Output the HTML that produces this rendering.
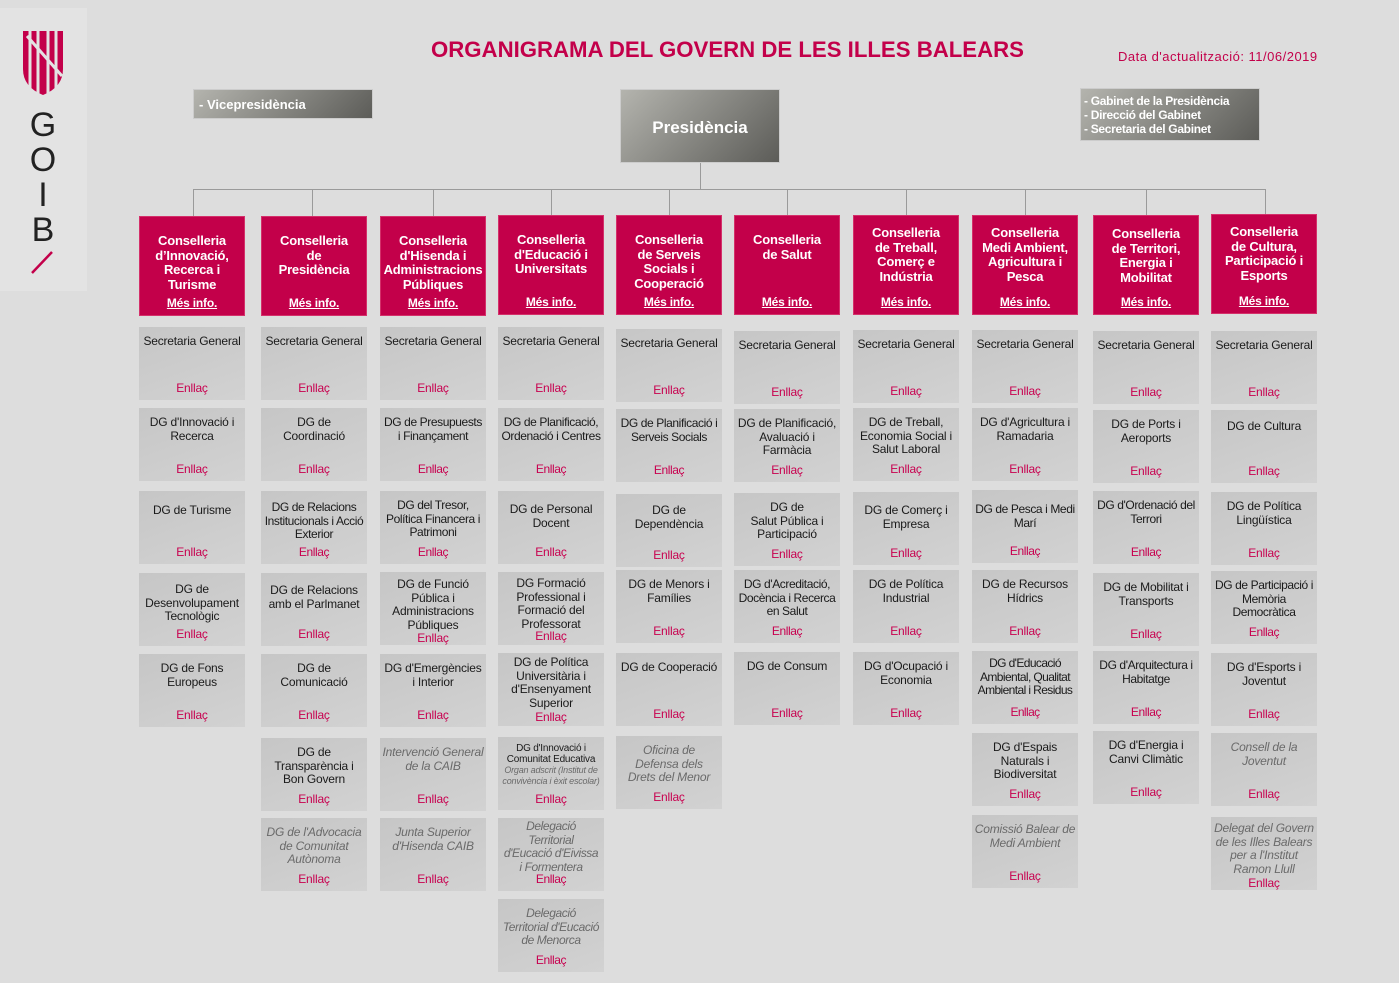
<!DOCTYPE html>
<html><head><meta charset="utf-8"><style>
*{margin:0;padding:0;box-sizing:border-box}
body{width:1399px;height:983px;background:#dddddd;position:relative;overflow:hidden;font-family:"Liberation Sans",Arial,sans-serif}
.logo{position:absolute;left:0;top:8px;width:87px;height:283px;background:#e3e3e3}
.title{position:absolute;left:431px;top:37px;font-size:22.2px;font-weight:bold;color:#c3004a}
.date{position:absolute;left:1118px;top:49px;font-size:13px;color:#c3004a;letter-spacing:0.5px}
.gbox{position:absolute;background:linear-gradient(135deg,#b4b4ae,#5c5c58);color:#fff;font-weight:bold;border:1px solid #ccc}
.line{position:absolute;background:#9a9a9a}
.col{position:absolute;width:106px}
.h{position:absolute;left:0;width:106px;height:100px;background:#c3004a;color:#fff;font-weight:bold;font-size:13px;line-height:14.5px;text-align:center;padding-top:17px;border:1px solid #d4306a;white-space:nowrap;letter-spacing:-0.2px}
.h u{position:absolute;left:0;right:0;bottom:5px;font-size:12px}
.c{position:absolute;left:0;width:106px;height:73px;background:linear-gradient(160deg,#c6c6c6,#d2d2d2);color:#1a1a1a;font-size:12px;line-height:13.5px;text-align:center;padding:8px 2px 0;letter-spacing:-0.2px}
.c .e{position:absolute;left:0;right:0;bottom:5px;color:#c8004f;font-size:12px;font-style:normal}
.n{white-space:nowrap;padding:8px 0 0;letter-spacing:-0.4px}
.i{font-style:italic;color:#6a6a6a}
</style></head><body>
<div class="logo">
<svg width="87" height="283" viewBox="0 0 87 283">
<path d="M23 23 h40 v38 q0 18 -20 26 q-20 -8 -20 -26z" fill="#c3004a"/>
<g stroke="#e3e3e3" stroke-width="3"><line x1="30" y1="22" x2="30" y2="90"/><line x1="38" y1="22" x2="38" y2="90"/><line x1="48" y1="22" x2="48" y2="90"/><line x1="56" y1="22" x2="56" y2="90"/><line x1="27" y1="28" x2="62" y2="68"/></g>
<text x="43" y="128" font-family="Liberation Sans" font-size="34" text-anchor="middle" fill="#222">G</text>
<text x="43" y="163" font-family="Liberation Sans" font-size="34" text-anchor="middle" fill="#222">O</text>
<text x="43" y="198" font-family="Liberation Sans" font-size="34" text-anchor="middle" fill="#222">I</text>
<text x="43" y="233" font-family="Liberation Sans" font-size="34" text-anchor="middle" fill="#222">B</text>
<line x1="32" y1="265" x2="52" y2="244" stroke="#c3004a" stroke-width="2.5"/>
</svg></div>
<div class="title">ORGANIGRAMA DEL GOVERN DE LES ILLES BALEARS</div>
<div class="date">Data d'actualització: 11/06/2019</div>
<div class="gbox" style="left:193px;top:89px;width:180px;height:30px;font-size:13px;padding:7px 0 0 5px">- Vicepresidència</div>
<div class="gbox" style="left:620px;top:89px;width:160px;height:74px;font-size:17px;text-align:center;padding-top:28px">Presidència</div>
<div class="gbox" style="left:1080px;top:88px;width:180px;height:53px;font-size:12px;line-height:14px;padding:5px 0 0 3px;letter-spacing:-0.3px">- Gabinet de la Presidència<br>- Direcció del Gabinet<br>- Secretaria del Gabinet</div>
<div class="line" style="left:700px;top:163px;width:1px;height:26px"></div>
<div class="line" style="left:193px;top:189px;width:1073px;height:1px"></div>
<div class="line" style="left:193px;top:189px;width:1px;height:27px"></div>
<div class="line" style="left:312px;top:189px;width:1px;height:27px"></div>
<div class="line" style="left:433px;top:189px;width:1px;height:27px"></div>
<div class="line" style="left:551px;top:189px;width:1px;height:27px"></div>
<div class="line" style="left:669px;top:189px;width:1px;height:27px"></div>
<div class="line" style="left:787px;top:189px;width:1px;height:27px"></div>
<div class="line" style="left:906px;top:189px;width:1px;height:27px"></div>
<div class="line" style="left:1025px;top:189px;width:1px;height:27px"></div>
<div class="line" style="left:1146px;top:189px;width:1px;height:27px"></div>
<div class="line" style="left:1265px;top:189px;width:1px;height:27px"></div>

<div class="col" style="left:139px">
<div class="h" style="top:216px">Conselleria<br>d’Innovació,<br>Recerca i<br>Turisme<u>Més info.</u></div>
<div class="c" style="top:327px">Secretaria General<span class="e">Enllaç</span></div>
<div class="c" style="top:408px">DG d'Innovació i Recerca<span class="e">Enllaç</span></div>
<div class="c" style="top:491px;padding-top:13px">DG de Turisme<span class="e">Enllaç</span></div>
<div class="c" style="top:573px;padding-top:10px">DG de Desenvolupament Tecnològic<span class="e">Enllaç</span></div>
<div class="c" style="top:654px">DG de Fons Europeus<span class="e">Enllaç</span></div>
</div>

<div class="col" style="left:261px">
<div class="h" style="top:216px">Conselleria<br>de<br>Presidència<u>Més info.</u></div>
<div class="c" style="top:327px">Secretaria General<span class="e">Enllaç</span></div>
<div class="c" style="top:408px">DG de<br>Coordinació<span class="e">Enllaç</span></div>
<div class="c n" style="top:491px;padding-top:10px">DG de Relacions<br>Institucionals i Acció<br>Exterior<span class="e">Enllaç</span></div>
<div class="c" style="top:573px;padding-top:11px">DG de Relacions amb el Parlmanet<span class="e">Enllaç</span></div>
<div class="c" style="top:654px">DG de<br>Comunicació<span class="e">Enllaç</span></div>
<div class="c" style="top:738px">DG de<br>Transparència i<br>Bon Govern<span class="e">Enllaç</span></div>
<div class="c i" style="top:818px">DG de l'Advocacia de Comunitat Autònoma<span class="e">Enllaç</span></div>
</div>

<div class="col" style="left:380px">
<div class="h" style="top:216px">Conselleria<br>d'Hisenda i<br>Administracions<br>Públiques<u>Més info.</u></div>
<div class="c" style="top:327px">Secretaria General<span class="e">Enllaç</span></div>
<div class="c n" style="top:408px">DG de Presupuests<br>i Finançament<span class="e">Enllaç</span></div>
<div class="c n" style="top:491px">DG del Tresor,<br>Política Financera i<br>Patrimoni<span class="e">Enllaç</span></div>
<div class="c" style="top:572px;padding-top:6px">DG de Funció Pública i Administracions Públiques<span class="e" style="bottom:0">Enllaç</span></div>
<div class="c" style="top:654px">DG d'Emergències i Interior<span class="e">Enllaç</span></div>
<div class="c i" style="top:738px">Intervenció General de la CAIB<span class="e">Enllaç</span></div>
<div class="c i" style="top:818px">Junta Superior d'Hisenda CAIB<span class="e">Enllaç</span></div>
</div>

<div class="col" style="left:498px">
<div class="h" style="top:215px">Conselleria<br>d'Educació i<br>Universitats<u>Més info.</u></div>
<div class="c" style="top:327px">Secretaria General<span class="e">Enllaç</span></div>
<div class="c n" style="top:408px">DG de Planificació,<br>Ordenació i Centres<span class="e">Enllaç</span></div>
<div class="c" style="top:491px;padding-top:12px">DG de Personal Docent<span class="e">Enllaç</span></div>
<div class="c" style="top:572px;padding-top:5px">DG Formació Professional i Formació del Professorat<span class="e" style="bottom:2px">Enllaç</span></div>
<div class="c" style="top:653px;padding-top:3px">DG de Política Universitària i d'Ensenyament Superior<span class="e" style="bottom:2px">Enllaç</span></div>
<div class="c" style="top:737px;font-size:10px;line-height:11px;padding-top:6px">DG d'Innovació i Comunitat Educativa<br><span class="i" style="font-size:9px">Organ adscrit (Institut de convivència i èxit escolar)</span><span class="e">Enllaç</span></div>
<div class="c i n" style="top:818px;padding-top:2px">Delegació<br>Territorial<br>d'Eucació d'Eivissa<br>i Formentera<span class="e">Enllaç</span></div>
<div class="c i n" style="top:899px">Delegació<br>Territorial d'Eucació<br>de Menorca<span class="e">Enllaç</span></div>
</div>

<div class="col" style="left:616px">
<div class="h" style="top:215px">Conselleria<br>de Serveis<br>Socials i<br>Cooperació<u>Més info.</u></div>
<div class="c" style="top:329px">Secretaria General<span class="e">Enllaç</span></div>
<div class="c n" style="top:409px">DG de Planificació i<br>Serveis Socials<span class="e">Enllaç</span></div>
<div class="c" style="top:494px;padding-top:10px">DG de<br>Dependència<span class="e">Enllaç</span></div>
<div class="c" style="top:570px">DG de Menors i Famílies<span class="e">Enllaç</span></div>
<div class="c" style="top:653px;padding-top:8px">DG de Cooperació<span class="e">Enllaç</span></div>
<div class="c i" style="top:736px">Oficina de<br>Defensa dels<br>Drets del Menor<span class="e">Enllaç</span></div>
</div>

<div class="col" style="left:734px">
<div class="h" style="top:215px">Conselleria<br>de Salut<u>Més info.</u></div>
<div class="c" style="top:331px">Secretaria General<span class="e">Enllaç</span></div>
<div class="c" style="top:409px">DG de Planificació, Avaluació i Farmàcia<span class="e">Enllaç</span></div>
<div class="c" style="top:493px">DG de<br>Salut Pública i<br>Participació<span class="e">Enllaç</span></div>
<div class="c n" style="top:570px">DG d'Acreditació,<br>Docència i Recerca<br>en Salut<span class="e">Enllaç</span></div>
<div class="c" style="top:652px">DG de Consum<span class="e">Enllaç</span></div>
</div>

<div class="col" style="left:853px">
<div class="h" style="top:215px;padding-top:10px">Conselleria<br>de Treball,<br>Comerç e<br>Indústria<u>Més info.</u></div>
<div class="c" style="top:330px">Secretaria General<span class="e">Enllaç</span></div>
<div class="c" style="top:408px">DG de Treball, Economia Social i Salut Laboral<span class="e">Enllaç</span></div>
<div class="c" style="top:492px;padding-top:12px">DG de Comerç i Empresa<span class="e">Enllaç</span></div>
<div class="c" style="top:570px">DG de Política Industrial<span class="e">Enllaç</span></div>
<div class="c" style="top:652px">DG d'Ocupació i Economia<span class="e">Enllaç</span></div>
</div>

<div class="col" style="left:972px">
<div class="h" style="top:215px;padding-top:10px">Conselleria<br>Medi Ambient,<br>Agricultura i<br>Pesca<u>Més info.</u></div>
<div class="c" style="top:330px">Secretaria General<span class="e">Enllaç</span></div>
<div class="c" style="top:408px">DG d'Agricultura i Ramadaria<span class="e">Enllaç</span></div>
<div class="c n" style="top:490px;padding-top:13px">DG de Pesca i Medi<br>Marí<span class="e">Enllaç</span></div>
<div class="c" style="top:570px">DG de Recursos Hídrics<span class="e">Enllaç</span></div>
<div class="c n" style="top:651px;padding-top:6px;letter-spacing:-0.6px">DG d'Educació<br>Ambiental, Qualitat<br>Ambiental i Residus<span class="e">Enllaç</span></div>
<div class="c" style="top:733px">DG d'Espais Naturals i Biodiversitat<span class="e">Enllaç</span></div>
<div class="c i" style="top:815px">Comissió Balear de Medi Ambient<span class="e">Enllaç</span></div>
</div>

<div class="col" style="left:1093px">
<div class="h" style="top:215px;padding-top:11px">Conselleria<br>de Territori,<br>Energia i<br>Mobilitat<u>Més info.</u></div>
<div class="c" style="top:331px">Secretaria General<span class="e">Enllaç</span></div>
<div class="c" style="top:410px">DG de Ports i Aeroports<span class="e">Enllaç</span></div>
<div class="c n" style="top:491px">DG d'Ordenació del<br>Terrori<span class="e">Enllaç</span></div>
<div class="c" style="top:573px">DG de Mobilitat i Transports<span class="e">Enllaç</span></div>
<div class="c n" style="top:651px">DG d'Arquitectura i<br>Habitatge<span class="e">Enllaç</span></div>
<div class="c" style="top:731px">DG d'Energia i Canvi Climàtic<span class="e">Enllaç</span></div>
</div>

<div class="col" style="left:1211px">
<div class="h" style="top:214px;padding-top:10px">Conselleria<br>de Cultura,<br>Participació i<br>Esports<u>Més info.</u></div>
<div class="c" style="top:331px">Secretaria General<span class="e">Enllaç</span></div>
<div class="c" style="top:410px;padding-top:10px">DG de Cultura<span class="e">Enllaç</span></div>
<div class="c" style="top:492px">DG de Política Lingüística<span class="e">Enllaç</span></div>
<div class="c n" style="top:571px">DG de Participació i<br>Memòria<br>Democràtica<span class="e">Enllaç</span></div>
<div class="c" style="top:653px">DG d'Esports i Joventut<span class="e">Enllaç</span></div>
<div class="c i" style="top:733px">Consell de la Joventut<span class="e">Enllaç</span></div>
<div class="c i" style="top:817px;padding-top:5px">Delegat del Govern de les Illes Balears per a l'Institut Ramon Llull<span class="e" style="bottom:0">Enllaç</span></div>
</div>
</body></html>
